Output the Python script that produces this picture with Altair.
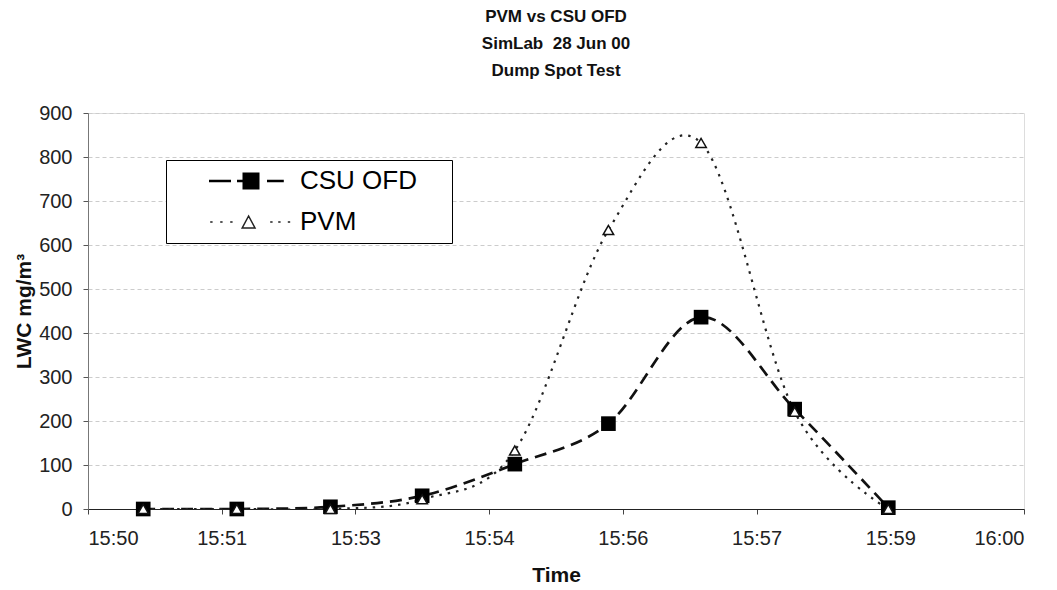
import altair as alt
import pandas as pd

# ---- data ----
minutes_after_1550 = [0.59, 1.59, 2.59, 3.57, 4.56, 5.56, 6.55, 7.55, 8.55]
csu_ofd = [0, 0, 5, 30, 102, 194, 436, 227, 3]
pvm = [0, 0, 0, 22, 133, 634, 832, 221, 0]
series_names = ["CSU OFD", "PVM"]
x_tick_labels = ["15:50", "15:51", "15:53", "15:54", "15:56", "15:57", "15:59", "16:00"]
y_tick_values = [0, 100, 200, 300, 400, 500, 600, 700, 800, 900]
title_lines = ["PVM vs CSU OFD", "SimLab\u00a0\u00a028 Jun 00", "Dump Spot Test"]

rows = []
for m, c, p in zip(minutes_after_1550, csu_ofd, pvm):
    rows.append({"t": m, "lwc": c, "series": series_names[0]})
    rows.append({"t": m, "lwc": p, "series": series_names[1]})
df = pd.DataFrame(rows)

FONT = "Liberation Sans"
n_ticks = len(x_tick_labels)
x_tick_values = [i * 10.0 / (n_ticks - 1) for i in range(n_ticks)]
label_list = "[" + ",".join("'%s'" % s for s in x_tick_labels) + "]"
x_label_expr = label_list + "[round(datum.value * %f)]" % ((n_ticks - 1) / 10.0)

x_enc = alt.X(
    "t:Q",
    scale=alt.Scale(domain=[0, 10], nice=False, zero=False),
    axis=alt.Axis(
        values=x_tick_values, labelExpr=x_label_expr, title="Time", grid=False,
        domainColor="#222222", tickColor="#444444", tickSize=5, labelPadding=14,
        labelFontSize=20, labelFont=FONT, labelColor="#222222",
        titleFontSize=21, titleFont=FONT, titleFontWeight="bold", titleColor="#111111",
        titlePadding=16,
    ),
)
y_enc = alt.Y(
    "lwc:Q",
    scale=alt.Scale(domain=[0, 900], nice=False),
    axis=alt.Axis(
        values=y_tick_values, title="LWC mg/m³", grid=True, gridColor="#cccccc",
        gridDash=[4, 3], gridWidth=1, domainColor="#777777", tickColor="#555555",
        tickSize=5, labelPadding=11, labelFontSize=20, labelFont=FONT, labelColor="#222222",
        titleFontSize=21, titleFont=FONT, titleFontWeight="bold", titleColor="#111111",
        titlePadding=4,
    ),
)

base = alt.Chart(df)

csu_line = base.transform_filter(alt.datum.series == series_names[0]).mark_line(
    interpolate="cardinal", color="#111111", strokeWidth=2.7, strokeDash=[12, 7], clip=True
).encode(x=x_enc, y=y_enc)

pvm_line = base.transform_filter(alt.datum.series == series_names[1]).mark_line(
    interpolate="cardinal", color="#222222", strokeWidth=2.2, strokeDash=[2.5, 6], clip=True
).encode(x=x_enc, y=y_enc)

csu_pts = base.transform_filter(alt.datum.series == series_names[0]).mark_point(
    shape="square", filled=True, color="#000000", size=215, opacity=1
).encode(x=x_enc, y=y_enc)

pvm_pts = base.transform_filter(alt.datum.series == series_names[1]).mark_point(
    shape="triangle-up", fill="white", stroke="#111111", strokeWidth=1.5, size=110, opacity=1
).encode(x=x_enc, y=y_enc)

# legend symbols: line + marker drawn as one custom path (unit = 8 px)
csu_symbol = "M-5.25,0H-2.5M-1.75,0H-0.9M-0.9,-0.9H0.9V0.9H-0.9ZM2,0H4.1"
pvm_symbol = ("M-5.1,0H-4.8M-3.85,0H-3.55M-2.6,0H-2.3"
              "M-0.3,-0.75L0.5,0.75H-1.1Z"
              "M2.4,0H2.7M3.4,0H3.7M4.6,0H4.9")

legend_layer = base.transform_filter("datum.lwc < -1000").mark_point(
    filled=True, opacity=1
).encode(
    x=x_enc, y=y_enc,
    shape=alt.Shape(
        "series:N",
        scale=alt.Scale(domain=series_names, range=[csu_symbol, pvm_symbol]),
        legend=alt.Legend(
            title=None, orient="none", legendX=78, legendY=47, direction="vertical",
            strokeColor="#000000", fillColor="white", padding=8,
            symbolSize=256, symbolOffset=64, labelOffset=36, rowPadding=15,
            labelFontSize=26, labelFont=FONT, labelColor="#000000",
            symbolOpacity=1,
            labelExpr="datum.label + '\u00a0\u2800'",
        ),
    ),
    fill=alt.Fill("series:N", scale=alt.Scale(domain=series_names, range=["#000000", "#ffffff"])),
    stroke=alt.Stroke("series:N", scale=alt.Scale(domain=series_names, range=["#000000", "#222222"])),
    strokeWidth=alt.StrokeWidth("series:N", scale=alt.Scale(domain=series_names, range=[2.6, 1.5])),
)

chart = alt.layer(csu_line, pvm_line, csu_pts, pvm_pts, legend_layer).properties(
    width=936,
    height=396,
    title=alt.TitleParams(
        text=title_lines, fontSize=17, font=FONT, fontWeight="bold", color="#111111",
        lineHeight=27, anchor="middle", offset=23,
    ),
    autosize=alt.AutoSizeParams(type="none"),
    padding={"left": 80, "top": 105, "right": 25, "bottom": 80},
).configure_view(stroke=None).configure(background="white")

chart.save("out.html", embed_options={"renderer": "svg", "actions": False})
